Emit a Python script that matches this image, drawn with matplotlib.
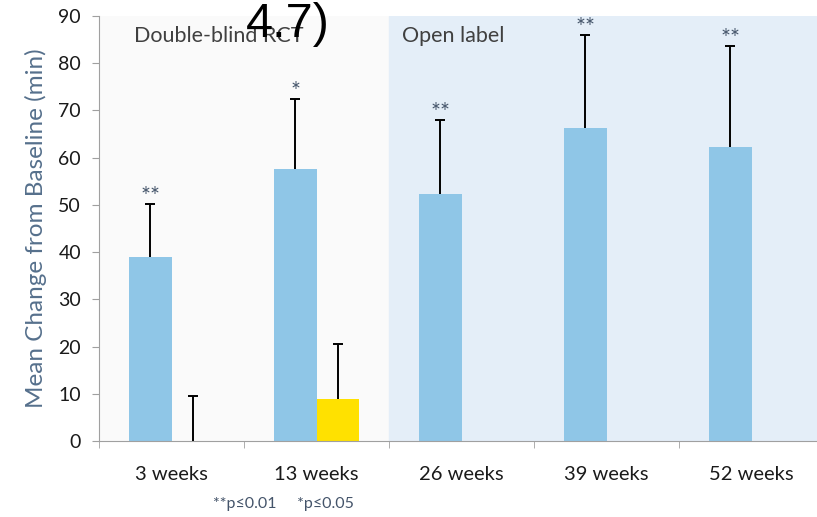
import numpy as np
import matplotlib
matplotlib.use("Agg")
import matplotlib.pyplot as plt

# categories and values
weeks = ["3 weeks", "13 weeks", "26 weeks", "39 weeks", "52 weeks"]
drug_mean = [39.0, 57.5, 52.3, 66.3, 62.3]
drug_err = [11.2, 15.0, 15.7, 19.7, 21.4]
drug_sig = ["**", "*", "**", "**", "**"]
placebo_mean = [0.0, 9.0]
placebo_err = [9.5, 11.6]

label_font = ["Lato", "DejaVu Sans"]
sig_color = "#44546a"

fig = plt.figure(figsize=(8.17, 5.17), dpi=100)
W, H = 817, 517
ax = fig.add_axes([99 / W, 76 / H, 725 / W, 425 / H])

x = np.arange(len(weeks))
w = 0.29

# shaded phases
ax.axvspan(-0.5, 1.5, color="#fafafa", zorder=0)
ax.axvspan(1.5, 4.5, color="#e4eef8", zorder=0)


def upper_errorbar(xs, means, errs):
    _, caps, _ = ax.errorbar(xs, means, yerr=[np.zeros(len(xs)), errs], fmt="none",
                             ecolor="black", elinewidth=1.4, capsize=3.5,
                             capthick=1.4, zorder=3)
    caps[0].set_visible(False)  # only the upper cap


ax.bar(x - w / 2, drug_mean, w, color="#8fc6e7", zorder=2)
upper_errorbar(x - w / 2, drug_mean, drug_err)

xp = x[:len(placebo_mean)] + w / 2
ax.bar(xp, placebo_mean, w, color="#ffe100", zorder=2)
upper_errorbar(xp, placebo_mean, placebo_err)

for xi, m, e, s in zip(x - w / 2, drug_mean, drug_err, drug_sig):
    ax.text(xi, m + e + 0.2, s, ha="center", va="baseline", fontsize=17,
            color=sig_color, family=label_font)

ax.text(-0.26, 87.8, "Double-blind RCT", ha="left", va="top", fontsize=15.5,
        color="#404040", family=label_font)
ax.text(1.59, 87.8, "Open label", ha="left", va="top", fontsize=15.5,
        color="#404040", family=label_font)

ax.set_xlim(-0.5, 4.5)
ax.set_ylim(0, 90)
ax.set_yticks(np.arange(0, 91, 10))
ax.set_xticks(x)
ax.set_xticklabels(weeks, family=label_font, fontsize=14.5, color="#1a1a1a")
ax.set_xticks(np.arange(-0.5, 4.6, 1), minor=True)
ax.tick_params(axis="x", which="major", length=0, pad=18)
ax.tick_params(axis="x", which="minor", length=5, color="#a0a0a0", direction="out")
ax.tick_params(axis="y", length=5, color="#a0a0a0", labelsize=14, labelcolor="#1a1a1a", pad=8)
for lab in ax.get_yticklabels():
    lab.set_family(label_font)

for sp in ["top", "right"]:
    ax.spines[sp].set_visible(False)
ax.spines["left"].set_color("#a0a0a0")
ax.spines["bottom"].set_color("#a0a0a0")

ax.set_ylabel("Mean Change from Baseline (min)", fontsize=17.5, color="#56708c",
              family=label_font, labelpad=8)

# footnote and title fragment
fig.text(213 / W, 1 - 504 / H, "**p≤0.01     *p≤0.05", fontsize=11.5, color=sig_color,
         family=label_font, va="center", ha="left")
fig.text(288 / W, 1 - 37 / H, "4.7)", fontsize=35, color="black", ha="center",
         va="baseline", family="Liberation Sans")

fig.savefig("out.png", dpi=100)
